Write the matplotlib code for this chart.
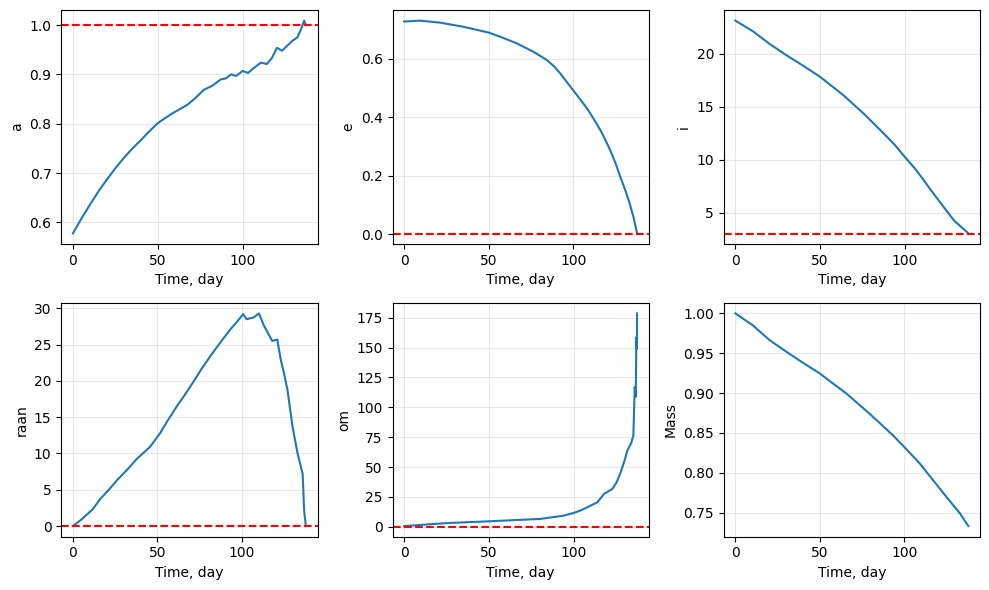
# orbital elements vs time, 2x3 grid
import matplotlib.pyplot as plt

# values
t_a = [0, 5, 10, 15, 20.4, 25, 30, 35, 40, 45, 49.8, 54, 58, 63, 67.5, 72, 77, 82, 87, 90, 93,
       96, 99.8, 103, 106, 110.6, 114, 117, 120, 123, 126, 129, 132, 134, 136, 137]
a = [0.578, 0.608, 0.636, 0.663, 0.689, 0.710, 0.731, 0.750, 0.767, 0.785, 0.801, 0.811, 0.820,
     0.830, 0.839, 0.852, 0.869, 0.877, 0.890, 0.892, 0.900, 0.897, 0.907, 0.903, 0.912, 0.924,
     0.921, 0.933, 0.954, 0.948, 0.958, 0.968, 0.975, 0.990, 1.009, 1.000]

t_e = [0, 9.5, 21.3, 35, 50, 58, 66.7, 76.5, 84.4, 88.5, 92.3, 96, 100, 104, 108.3, 112, 116.2,
       119, 122, 125, 128, 130.5, 132.9, 135.5, 137.7]
e = [0.728, 0.731, 0.724, 0.710, 0.690, 0.673, 0.653, 0.624, 0.596, 0.575, 0.550, 0.522, 0.492,
     0.462, 0.429, 0.395, 0.354, 0.322, 0.285, 0.242, 0.193, 0.154, 0.113, 0.060, 0.003]

t_i = [0, 10.3, 20.2, 30.1, 40, 50, 63.8, 75.7, 87.6, 94, 100, 106, 111.2, 115, 119.2, 124,
       129, 133, 137.4]
inc = [23.1, 22.1, 20.9, 19.84, 18.85, 17.8, 16.06, 14.34, 12.45, 11.4, 10.25, 9.15, 8.05,
       7.2, 6.32, 5.3, 4.27, 3.7, 3.07]

t_raan = [0, 5, 11.9, 16, 21.8, 26, 31.8, 38, 45.6, 51.6, 56, 61.5, 66, 71.4, 76, 81.3, 87.3,
          93.2, 97, 100.8, 102.8, 107.1, 110.1, 113.1, 118, 121, 123, 125, 127, 130, 133, 136,
          136.9, 137.9]
raan = [0, 0.9, 2.36, 3.7, 5.14, 6.3, 7.68, 9.3, 10.9, 12.8, 14.5, 16.5, 18.0, 19.9, 21.6,
        23.4, 25.3, 27.1, 28.1, 29.2, 28.5, 28.75, 29.3, 27.6, 25.5, 25.7, 22.96, 21.0, 18.8,
        13.7, 10.0, 7.2, 2.1, 0]

t_om = [0, 25, 50, 80.3, 94, 100, 104, 108, 114, 118, 122.9, 125.5, 127.8, 130, 131.8, 134,
        135.3, 136.1, 136.7, 137.0, 137.2, 137.4, 137.5]
om = [0.5, 3.0, 4.5, 6.5, 9.2, 11.5, 13.5, 16.2, 20.4, 27.5, 31.6, 37.5, 45.6, 55, 63.9, 70,
      76.5, 117, 108.7, 150, 159, 149, 178.7]

t_m = [0, 10.3, 20.2, 30.1, 40, 50, 57.8, 65.7, 72.6, 79.5, 86.4, 93.3, 100, 109.2, 117.1, 125,
       133, 138]
mass = [1.0, 0.985, 0.9665, 0.952, 0.938, 0.9246, 0.912, 0.8995, 0.8868, 0.874, 0.8605, 0.847,
        0.8324, 0.8116, 0.7906, 0.7696, 0.749, 0.733]

targets = [1.0, 0.0, 3.0, 0.0, 0.0, None]
labels = ['a', 'e', 'i', 'raan', 'om', 'Mass']
series = [(t_a, a), (t_e, e), (t_i, inc), (t_raan, raan), (t_om, om), (t_m, mass)]

fig, axes = plt.subplots(2, 3, figsize=(10, 6), dpi=100)
for ax, (t, y), lab, tgt in zip(axes.flat, series, labels, targets):
    ax.plot(t, y)
    if tgt is not None:
        ax.axhline(tgt, color='r', linestyle='--')
    ax.set_xlabel('Time, day')
    ax.set_ylabel(lab)
    ax.grid(alpha=0.3)

plt.tight_layout()
plt.savefig('out.png', bbox_inches='tight')
